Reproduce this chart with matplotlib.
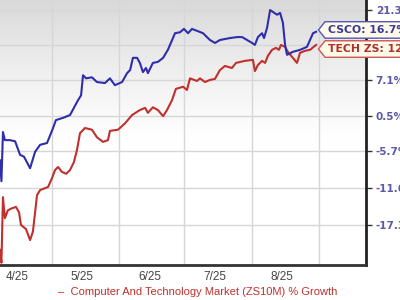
import numpy as np
import matplotlib
matplotlib.use('Agg')
import matplotlib.pyplot as plt
import matplotlib.dates as mdates
import matplotlib.ticker as mticker
from matplotlib.path import Path
from datetime import datetime

# Данные: дни от 1 апреля 2025 и % роста
days_csco = [6.0, 6.7, 7.4, 8.3, 10.6, 13.0, 15.3, 17.1, 19.9, 22.2, 24.5, 27.7,
             30.5, 31.8, 35.1, 38.3, 40.1, 42.0, 43.4, 44.3, 45.7, 48.4, 50.7, 54.4,
             56.7, 59.0, 62.3, 64.6, 66.0, 67.3, 69.2, 70.5, 71.9, 73.3, 74.2, 76.5,
             78.8, 81.2, 83.4, 86.7, 89.0, 90.8, 92.7, 94.5, 96.8, 99.6, 101.4, 102.8,
             105.1, 107.4, 112.0, 115.3, 117.6, 119.9, 122.2, 123.5, 124.9, 126.8, 127.7,
             129.1, 130.5, 131.8, 133.7, 135.1, 136.4, 137.4, 138.3, 141.0, 144.3, 147.5,
             148.9, 150.3, 151.7]
csco = [-7.2, -10.6, -2.4, -3.8, -3.8, -4.0, -6.3, -6.6, -8.5, -5.8, -4.6, -4.3,
        -1.7, -0.3, 0.1, 0.6, 1.9, 3.3, 4.2, 8.0, 7.4, 7.6, 6.7, 6.5,
        7.4, 6.1, 6.7, 8.4, 9.0, 11.4, 11.4, 10.4, 8.6, 9.4, 8.4, 10.4,
        10.6, 11.4, 13.0, 16.4, 16.6, 17.3, 16.4, 17.3, 16.9, 16.4, 15.6, 15.0,
        14.4, 15.0, 15.4, 15.6, 15.6, 15.0, 14.4, 14.0, 15.6, 16.4, 15.4,
        17.5, 21.3, 20.9, 20.3, 20.7, 18.6, 14.0, 12.0, 12.6, 13.0, 13.6,
        15.0, 16.4, 16.7]

days_tech = [6.0, 6.7, 7.4, 8.3, 9.7, 11.6, 13.4, 14.8, 15.7, 18.0, 19.9, 21.2,
             23.1, 24.5, 28.2, 30.0, 31.4, 32.8, 34.6, 36.5, 38.3, 40.1, 41.5, 42.9,
             45.2, 48.4, 50.7, 53.5, 55.8, 56.7, 60.4, 63.6, 66.9, 70.5, 72.9, 74.2,
             76.5, 78.8, 81.2, 83.0, 85.3, 87.1, 90.4, 92.2, 93.6, 96.8, 98.2, 100.5,
             102.8, 105.1, 107.4, 109.7, 112.9, 114.8, 118.9, 122.6, 123.5, 124.9, 126.8,
             128.2, 129.5, 131.4, 133.2, 134.6, 135.5, 137.4, 138.7, 141.0, 142.9, 144.3,
             146.6, 148.9, 151.7]
tech = [-20.9, -22.7, -13.1, -16.3, -15.1, -14.8, -14.6, -15.4, -17.3, -17.9, -19.5, -18.3,
        -12.8, -12.0, -11.5, -10.1, -8.8, -8.3, -9.1, -9.4, -8.8, -7.5, -5.5, -2.6,
        -1.7, -2.0, -3.3, -4.1, -3.8, -2.2, -2.0, -0.9, 0.6, 1.5, 1.9, 1.0,
        2.0, 1.5, 0.4, 1.5, 3.3, 5.4, 5.8, 5.2, 7.4, 6.9, 7.4, 6.7,
        7.1, 7.3, 9.0, 9.8, 9.4, 10.4, 10.8, 11.0, 8.8, 10.0, 10.8,
        10.4, 11.8, 13.0, 13.4, 13.0, 14.0, 13.6, 12.6, 11.4, 10.4, 12.4,
        12.8, 13.0, 14.0]

month_labels = ['4/25', '5/25', '6/25', '7/25', '8/25']
y_ticks = [21.3, 14.0, 7.1, 0.5, -5.7, -11.6, -17.3]
y_labels = ['21.3%', '', '7.1%', '0.5%', '-5.7%', '-11.6%', '-17.3%']

blue = '#2e2eaa'
red = '#c0302c'

base = mdates.date2num(datetime(2025, 4, 1))


def tag_box(x0, y0, width, height, mutation_size):
    # прямоугольник с острым левым краем
    pad = 0.3 * mutation_size
    x0, y0 = x0 - pad, y0 - pad
    w, h = width + 2 * pad, height + 2 * pad
    tip = 0.4 * h
    verts = [(x0 - tip, y0 + h / 2), (x0, y0), (x0 + w, y0), (x0 + w, y0 + h),
             (x0, y0 + h), (x0 - tip, y0 + h / 2), (x0 - tip, y0 + h / 2)]
    return Path(verts, closed=True)


fig = plt.figure(figsize=(4, 3), dpi=100)
ax = fig.add_axes([0, 1 - 265 / 300, 366 / 400, 265 / 300])

# фон с градиентом сверху
grad = np.linspace(1.0, 0.0, 256).reshape(-1, 1)
grad = np.clip((grad - 0.45) / 0.55, 0, 1)
shade = 1.0 - 0.15 * grad ** 1.3
ax.imshow(np.dstack([shade, shade, shade]), extent=[0, 1, 0, 1], transform=ax.transAxes,
          aspect='auto', zorder=0)

ax.set_yscale('function', functions=(lambda v: np.log1p(np.asarray(v) / 100.0),
                                     lambda v: np.expm1(np.asarray(v)) * 100.0))

ax.plot(base + np.array(days_tech), tech, color=red, lw=1.5, zorder=3)
ax.plot(base + np.array(days_csco), csco, color=blue, lw=1.5, zorder=4)

ax.set_xlim(base + 6.04, base + 174.7)
ax.set_ylim(-23.0, 23.5)

label_dates = [mdates.date2num(datetime(2025, m, 15)) for m in range(4, 9)]
ax.xaxis.set_major_locator(mticker.FixedLocator(label_dates))
ax.xaxis.set_major_formatter(mticker.FixedFormatter(month_labels))
ax.xaxis.set_minor_locator(mdates.MonthLocator(bymonthday=1))
ax.tick_params(axis='x', which='both', length=0, pad=4, labelsize=8.5, labelcolor='#444444')
for lab in ax.get_xticklabels():
    lab.set_fontfamily('Liberation Sans')
ax.grid(True, axis='x', which='minor', color='#d6d6d6', lw=1)

ax.yaxis.tick_right()
ax.yaxis.set_major_locator(mticker.FixedLocator(y_ticks))
ax.yaxis.set_major_formatter(mticker.FixedFormatter(y_labels))
ax.yaxis.set_minor_locator(mticker.NullLocator())
ax.tick_params(axis='y', length=4, width=1, color='#333333', pad=3,
               labelsize=7.5, labelcolor='#5a5aa8')
for lab in ax.get_yticklabels():
    lab.set_fontweight('bold')
ax.grid(True, axis='y', which='major', color='#d6d6d6', lw=1)
ax.set_axisbelow(True)

for s in ['left', 'top']:
    ax.spines[s].set_visible(False)
ax.spines['right'].set_linewidth(2)
ax.spines['right'].set_color('#222222')
ax.spines['bottom'].set_linewidth(2)
ax.spines['bottom'].set_color('#333333')

# метки последних значений
ax.text(0.897, 0.887, 'CSCO: 16.7%', transform=ax.transAxes, fontsize=7.8, fontweight='bold',
        color='#3a3aa0', va='center', ha='left', zorder=6, clip_on=False,
        bbox=dict(boxstyle=tag_box, fc='#fffbe8', ec='#5555bb', lw=1))
ax.text(0.897, 0.815, 'TECH ZS: 12.9%', transform=ax.transAxes, fontsize=7.8, fontweight='bold',
        color='#b03030', va='center', ha='left', zorder=6, clip_on=False,
        bbox=dict(boxstyle=tag_box, fc='#fffbe8', ec='#cc5555', lw=1))

fig.text(58 / 400, 1 - 292 / 300, '–  Computer And Technology Market (ZS10M) % Growth',
         color=red, fontsize=8, family='Liberation Sans', va='center', ha='left')

fig.savefig('out.png', dpi=100)
